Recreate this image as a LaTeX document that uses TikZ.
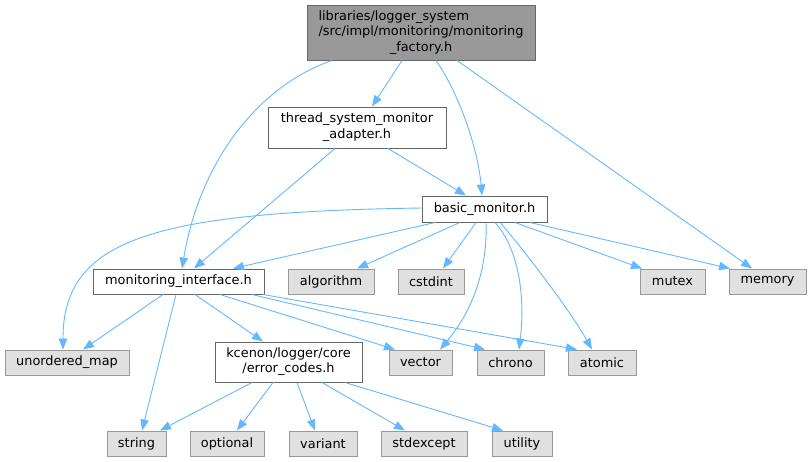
\documentclass[tikz,border=0pt]{standalone}
\usepackage{fontspec}
\setmainfont{DejaVu Sans}
\usetikzlibrary{arrows.meta}
\definecolor{edgeblue}{HTML}{63B8FF}
\definecolor{gfill}{HTML}{E0E0E0}
\definecolor{gline}{HTML}{999999}
\definecolor{wline}{HTML}{666666}
\definecolor{rfill}{HTML}{999999}
\begin{document}
\begin{tikzpicture}[x=1pt,y=-1pt,
  base/.style={rectangle, inner sep=0pt, line width=1pt, font=\fontsize{12.9}{15.6}\selectfont, text=black},
  sysbox/.style={base, draw=gline, fill=gfill, minimum height=25pt},
  filebox/.style={base, draw=wline, fill=white},
  rootbox/.style={base, draw=wline, fill=rfill},
  dep/.style={draw=edgeblue, line width=0.9pt, -{Triangle[length=11pt,width=8.5pt]}}
]
\useasboundingbox (0,0) rectangle (811,461);

% nodes
\node[rootbox, minimum width=228pt, minimum height=55pt] (root) at (421,32.5)
  {\begin{tabular}{@{}l@{}}libraries/logger\_system\\/src/impl/monitoring/monitoring\\\multicolumn{1}{@{}c@{}}{\_factory.h}\end{tabular}};
\node[filebox, minimum width=178pt, minimum height=41pt] (thread) at (357,127.5)
  {\begin{tabular}{@{}l@{}}thread\_system\_monitor\\\multicolumn{1}{@{}c@{}}{\_adapter.h}\end{tabular}};
\node[filebox, minimum width=125pt, minimum height=26pt] (basic) at (484.5,209) {basic\_monitor.h};
\node[filebox, minimum width=171pt, minimum height=25pt] (mi) at (178.5,281.5) {monitoring\_interface.h};
\node[sysbox, minimum width=86pt] (alg) at (331,281.5) {algorithm};
\node[sysbox, minimum width=66pt] (cstdint) at (431,281.5) {cstdint};
\node[sysbox, minimum width=65pt] (mutex) at (672.5,281.5) {mutex};
\node[sysbox, minimum width=77pt] (memory) at (767.5,281.5) {memory};
\node[sysbox, minimum width=124pt] (um) at (67,362.5) {unordered\_map};
\node[sysbox, minimum width=63pt] (vector) at (420.5,362.5) {vector};
\node[sysbox, minimum width=67pt] (chrono) at (510.5,362.5) {chrono};
\node[sysbox, minimum width=68pt] (atomic) at (602,362.5) {atomic};
\node[filebox, minimum width=147pt, minimum height=40pt] (ec) at (288.5,362)
  {\begin{tabular}{@{}l@{}}kcenon/logger/core\\\multicolumn{1}{@{}c@{}}{/error\_codes.h}\end{tabular}};
\node[sysbox, minimum width=59pt] (string) at (136.5,443.5) {string};
\node[sysbox, minimum width=74pt] (optional) at (227,443.5) {optional};
\node[sysbox, minimum width=68pt] (variant) at (323,443.5) {variant};
\node[sysbox, minimum width=86pt] (stdexcept) at (424,443.5) {stdexcept};
\node[sysbox, minimum width=60pt] (utility) at (522,443.5) {utility};

% root edges
\draw[dep] ([xshift=-89pt]root.south) .. controls (260,85) and (200,160) .. ([xshift=3.5pt]mi.north);
\draw[dep] ([xshift=-19pt]root.south) -- ([xshift=15pt]thread.north);
\draw[dep] ([xshift=15pt]root.south) .. controls (460,95) and (478,150) .. ([xshift=-2.5pt]basic.north);
\draw[dep] ([xshift=36pt]root.south) -- ([xshift=-15.5pt]memory.north);

% thread edges
\draw[dep] ([xshift=-22pt]thread.south) -- ([xshift=15.5pt]mi.north);
\draw[dep] ([xshift=31pt]thread.south) -- ([xshift=-18.5pt]basic.north);

% basic edges
\draw[dep] ([yshift=1pt]basic.west) .. controls (150,212) and (63,240) .. ([xshift=-4pt]um.north);
\draw[dep] ([xshift=-49.5pt]basic.south) -- ([xshift=54.5pt]mi.north);
\draw[dep] ([xshift=-24.5pt]basic.south) -- ([xshift=26pt]alg.north);
\draw[dep] ([xshift=-8.5pt]basic.south) -- ([xshift=12pt]cstdint.north);
\draw[dep] ([xshift=1.5pt]basic.south) .. controls (488,280) and (465,320) .. ([xshift=19.5pt]vector.north);
\draw[dep] ([xshift=10.5pt]basic.south) .. controls (520,250) and (525,300) .. ([xshift=8.5pt]chrono.north);
\draw[dep] ([xshift=15.5pt]basic.south) .. controls (520,245) and (570,310) .. ([xshift=-10pt]atomic.north);
\draw[dep] ([xshift=30.5pt]basic.south) -- ([xshift=-30.5pt]mutex.north);
\draw[dep] ([xshift=45.5pt]basic.south) -- ([xshift=-37.5pt]memory.north);

% monitoring_interface edges
\draw[dep] ([xshift=-15.5pt]mi.south) -- ([xshift=16pt]um.north);
\draw[dep] ([xshift=-2.5pt]mi.south) -- ([xshift=5.5pt]string.north);
\draw[dep] ([xshift=16.5pt]mi.south) -- ([xshift=-25.5pt]ec.north);
\draw[dep] ([xshift=41.5pt]mi.south) -- ([xshift=-25.5pt]vector.north);
\draw[dep] ([xshift=73.5pt]mi.south) -- ([xshift=-25.5pt]chrono.north);
\draw[dep] ([xshift=84.5pt]mi.south) -- ([xshift=-25pt]atomic.north);

% error_codes edges
\draw[dep] ([xshift=-36.5pt]ec.south) -- ([xshift=23.5pt]string.north);
\draw[dep] ([xshift=-15.5pt]ec.south) -- ([xshift=10pt]optional.north);
\draw[dep] ([xshift=8.5pt]ec.south) -- ([xshift=-8pt]variant.north);
\draw[dep] ([xshift=33.5pt]ec.south) -- ([xshift=-19pt]stdexcept.north);
\draw[dep] ([xshift=56.5pt]ec.south) -- ([xshift=-19pt]utility.north);
\end{tikzpicture}
\end{document}
